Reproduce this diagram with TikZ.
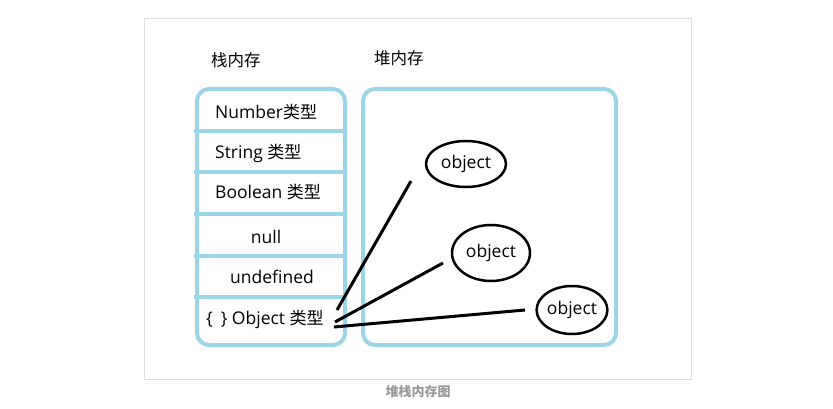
\documentclass[tikz,border=0pt]{standalone}
\usepackage{fontspec}
\setmainfont{Open Sans}
\newfontfamily\cjk{Noto Sans CJK SC}
\usetikzlibrary{shapes.geometric}
\definecolor{boxblue}{HTML}{9AD6E8}
\definecolor{framegray}{HTML}{DDDDDD}
\definecolor{capgray}{HTML}{999999}
\newcommand{\lx}{\fontsize{17.5}{19}\selectfont}
\newcommand{\ct}[1]{{\cjk\fontsize{17}{19}\selectfont #1}}
\tikzset{
  memframe/.style={draw=boxblue, line width=4pt, rounded corners=12pt},
  divider/.style={draw=boxblue, line width=4pt},
  lbl/.style={font=\lx, inner sep=0pt, anchor=west},
  title/.style={font=\cjk\fontsize{16.5}{18}\selectfont, inner sep=0pt, anchor=west},
  obj/.style={draw=black, line width=2.5pt, ellipse, inner sep=0pt, font=\fontsize{17.5}{19}\selectfont},
  link/.style={draw=black, line width=3pt}
}
\begin{document}
\begin{tikzpicture}[x=1pt,y=-1pt]
\useasboundingbox (0,0) rectangle (833,409);
\draw[framegray, line width=1pt] (144,19) rectangle (691,379);
\node[font=\cjk\bfseries\fontsize{13}{15}\selectfont, text=capgray, inner sep=0pt] (cap) at (418,392) {堆栈内存图};

\node[title] (stacktitle) at (211,60) {栈内存};
\node[title] (heaptitle) at (374,58) {堆内存};

% stack box
\draw[memframe] (197,89) rectangle (345,345);
\foreach \yy in {131,172,214,256,297} \draw[divider] (194,\yy) -- (345,\yy);

\node[lbl] (num) at (215,112) {Number\ct{类型}};
\node[lbl] (str) at (215,153) {String \ct{类型}};
\node[lbl] (bool) at (215,192) {Boolean \ct{类型}};
\node[font=\lx, inner sep=0pt] (nul) at (266,237) {null};
\node[lbl] (und) at (230,277) {undefined};
\node[lbl] (objt) at (206,319) {\{\hspace{8pt}\} Object \ct{类型}};

% heap box
\draw[memframe] (363,89) rectangle (616,345);

\node[obj, minimum width=80pt, minimum height=46pt] (o1) at (466,164) {object};
\node[obj, minimum width=78pt, minimum height=56pt] (o2) at (491,253) {object};
\node[obj, minimum width=70pt, minimum height=48pt] (o3) at (572,310) {object};

\coordinate (a1) at (411,181);
\coordinate (b1) at (337,310);
\coordinate (a2) at (443,263);
\coordinate (b2) at (335,322);
\coordinate (a3) at (525,310);
\coordinate (b3) at (334,327);
\draw[link] (b1) -- (a1);
\draw[link] (b2) -- (a2);
\draw[link] (b3) -- (a3);
\end{tikzpicture}
\end{document}
